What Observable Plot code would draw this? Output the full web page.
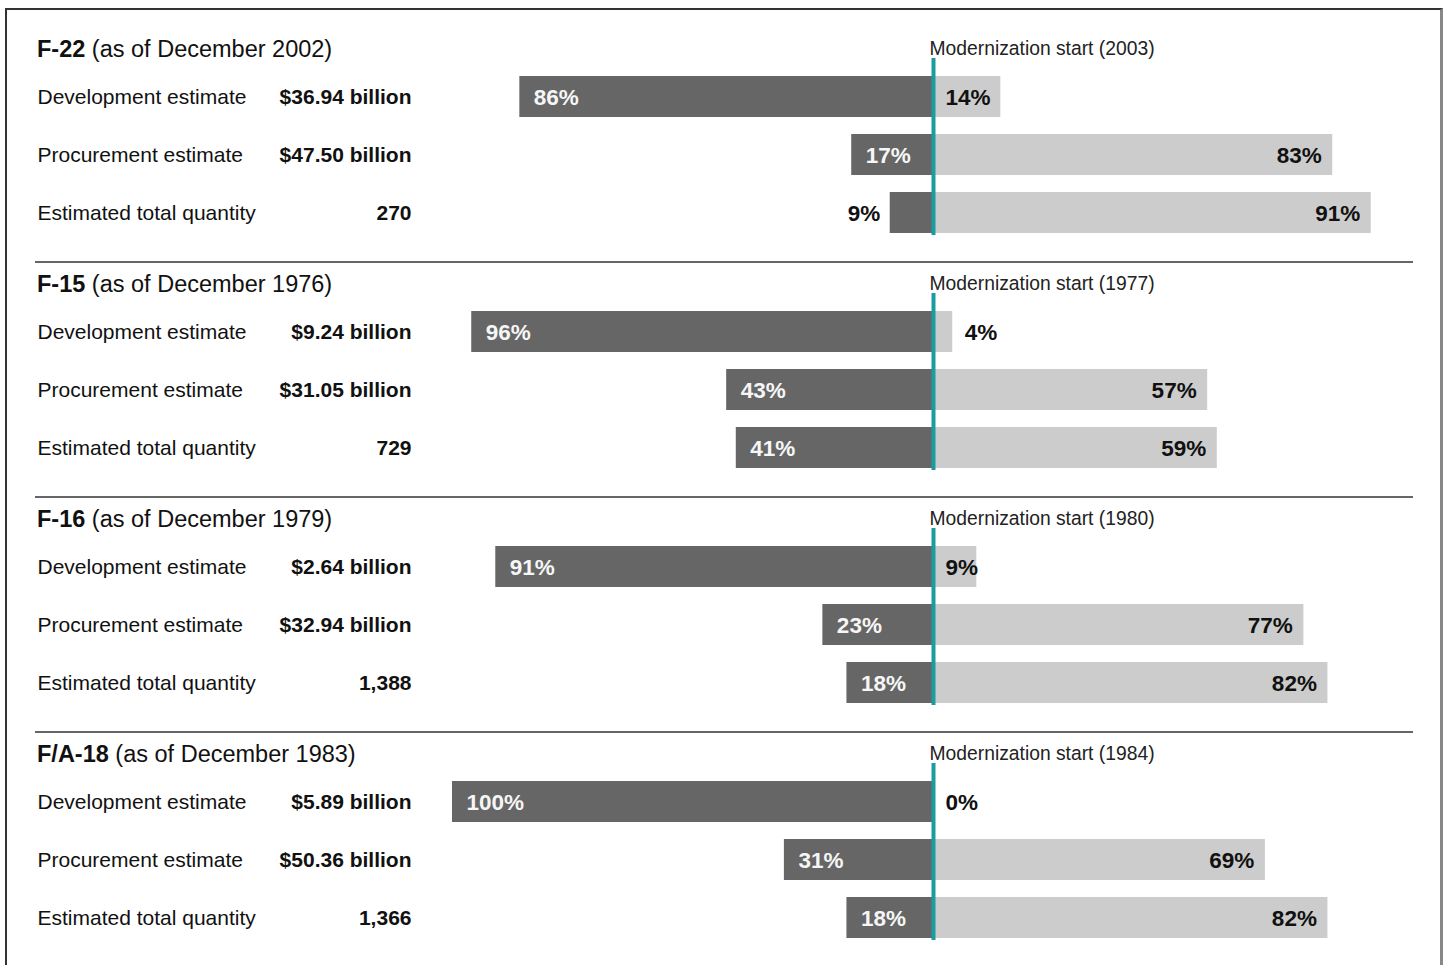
<!DOCTYPE html>
<html><head><meta charset="utf-8">
<script src="https://cdn.jsdelivr.net/npm/d3@7"></script>
<script src="https://cdn.jsdelivr.net/npm/@observablehq/plot@0.6"></script>
<style>
body{margin:0;background:#fff;font-family:"Liberation Sans",Arial,sans-serif;}
#wrap{position:relative;width:1447px;height:965px;overflow:hidden;background:#fff;}
.frame{position:absolute;left:5px;top:8px;width:1433px;height:1000px;border-left:2px solid #333;border-top:2px solid #333;border-right:3px solid #888;}
.sep{position:absolute;left:35px;width:1378px;height:0;border-top:2px solid #666;}
.hdr{position:absolute;left:37px;font-size:23.5px;line-height:1;color:#111;white-space:nowrap;}
.panel{position:absolute;left:0;}
</style>
</head><body><div id="wrap"><div class="frame"></div></div>
<script>
const aircraft = ["F-22", "F-15", "F-16", "F/A-18"];
const asOf = ["December 2002", "December 1976", "December 1979", "December 1983"];
const modStart = [2003, 1977, 1980, 1984];
const measures = ["Development estimate", "Procurement estimate", "Estimated total quantity"];
const totals = [
  ["$36.94 billion", "$47.50 billion", "270"],
  ["$9.24 billion", "$31.05 billion", "729"],
  ["$2.64 billion", "$32.94 billion", "1,388"],
  ["$5.89 billion", "$50.36 billion", "1,366"]
];
const beforeStart = [[86, 17, 9], [96, 43, 41], [91, 23, 18], [100, 31, 18]];
const afterStart = [[14, 83, 91], [4, 57, 59], [9, 77, 82], [0, 69, 82]];

const font = '"Liberation Sans", Arial, sans-serif';
const wrap = document.getElementById("wrap");
const panelTop = [20, 255, 490, 725];

aircraft.forEach((name, i) => {
  const T = panelTop[i];
  const rows = measures.map((m, j) => ({
    measure: m, total: totals[i][j], before: beforeStart[i][j], after: afterStart[i][j]
  }));

  const hdr = document.createElement("div");
  hdr.className = "hdr";
  hdr.style.top = (T + 18) + "px";
  hdr.innerHTML = `<b>${name}</b> (as of ${asOf[i]})`;
  wrap.appendChild(hdr);

  if (i > 0) {
    const sep = document.createElement("div");
    sep.className = "sep";
    sep.style.top = (T + 6) + "px";
    wrap.appendChild(sep);
  }

  const plot = Plot.plot({
    width: 1447,
    height: 235,
    marginLeft: 452,
    marginRight: 33,
    marginTop: 38,
    marginBottom: 4,
    x: {domain: [-100, 100], axis: null},
    y: {domain: measures, axis: null, padding: 0.3},
    style: {fontFamily: font, background: "transparent", overflow: "visible"},
    marks: [
      Plot.barX(rows, {x1: d => -d.before, x2: 0, y: "measure", fill: "#666666"}),
      Plot.barX(rows, {x1: 0, x2: "after", y: "measure", fill: "#cccccc"}),
      Plot.ruleX([0], {stroke: "#1a9ca1", strokeWidth: 4, insetBottom: 16}),
      Plot.text([modStart[i]], {x: 0, frameAnchor: "top", lineAnchor: "bottom", dx: -4, dy: -4,
        textAnchor: "start", text: d => `Modernization start (${d})`, fontSize: 19.3, fill: "#222"}),
      Plot.text(rows, {y: "measure", text: "measure", frameAnchor: "left", dx: -415, dy: 0,
        textAnchor: "start", fontSize: 21, fill: "#111"}),
      Plot.text(rows, {y: "measure", text: "total", frameAnchor: "left", dx: -41, dy: 0,
        textAnchor: "end", fontSize: 21, fontWeight: "bold", fill: "#111"}),
      Plot.text(rows.filter(d => d.before >= 15), {x: d => -d.before, y: "measure", text: d => d.before + "%",
        textAnchor: "start", dx: 14, dy: 1, fontSize: 22.5, fontWeight: "bold", fill: "#f6f6f6"}),
      Plot.text(rows.filter(d => d.before < 15), {x: d => -d.before, y: "measure", text: d => d.before + "%",
        textAnchor: "end", dx: -10, dy: 1, fontSize: 22.5, fontWeight: "bold", fill: "#111"}),
      Plot.text(rows.filter(d => d.after >= 20), {x: "after", y: "measure", text: d => d.after + "%",
        textAnchor: "end", dx: -11, dy: 1, fontSize: 22.5, fontWeight: "bold", fill: "#111"}),
      Plot.text(rows.filter(d => d.after < 20), {x: d => d.after <= 5 ? d.after : 0, y: "measure", text: d => d.after + "%",
        textAnchor: "start", dx: 12, dy: 1, fontSize: 22.5, fontWeight: "bold", fill: "#111"})
    ]
  });
  const holder = document.createElement("div");
  holder.className = "panel";
  holder.style.top = T + "px";
  holder.appendChild(plot);
  wrap.appendChild(holder);
});
</script>
</body></html>
